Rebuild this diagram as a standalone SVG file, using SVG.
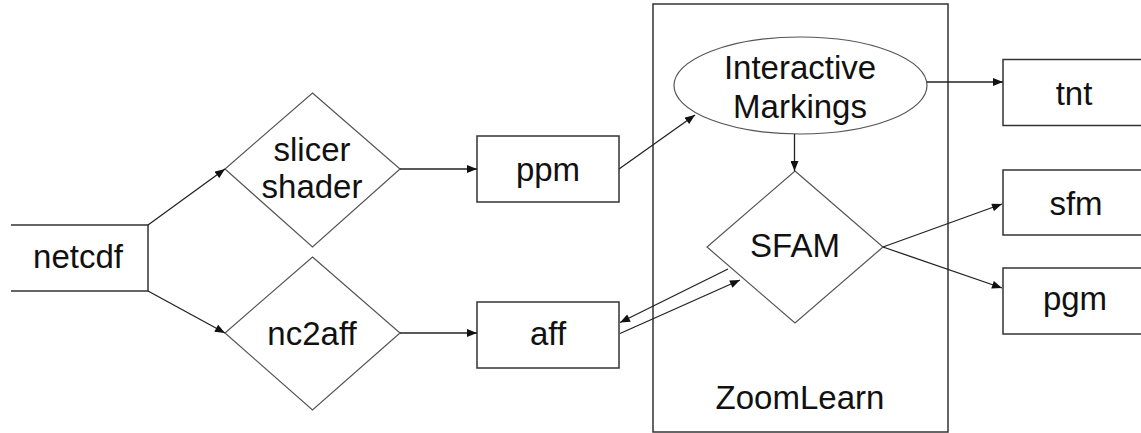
<svg xmlns="http://www.w3.org/2000/svg" width="1141" height="433" viewBox="0 0 1141 433">
<defs>
<marker id="ah" viewBox="0 0 10 8" refX="10" refY="4" markerWidth="11" markerHeight="8" markerUnits="userSpaceOnUse" orient="auto">
<path d="M0,0 L10,4 L0,8 Z" fill="#111"/>
</marker>
<style>
.box{fill:#fff;stroke:#333;stroke-width:1.5}
.dia{fill:#fff;stroke:#555;stroke-width:1.2}
.t{font-family:"Liberation Sans",Arial,sans-serif;font-size:33px;fill:#111;text-anchor:middle}
.c{fill:none;stroke:#222;stroke-width:1.3;marker-end:url(#ah)}
</style>
</defs>
<rect width="1141" height="433" fill="#fff"/>
<g id="zoomlearn">
<rect x="653" y="4" width="295" height="428" fill="none" stroke="#333" stroke-width="1.5"/>
<text class="t" x="800" y="409">ZoomLearn</text>
</g>
<g id="netcdf">
<path class="box" d="M11,225 H148 V291 H11"/>
<text class="t" x="78" y="268">netcdf</text>
</g>
<g id="slicer">
<polygon class="dia" points="312.5,93 400,169 312.5,247 225,169"/>
<text class="t" x="312" y="161">slicer</text>
<text class="t" x="312" y="198">shader</text>
</g>
<g id="nc2aff">
<polygon class="dia" points="312.5,257 400,333 312.5,410 225,333"/>
<text class="t" x="312" y="345">nc2aff</text>
</g>
<g id="ppm">
<rect class="box" x="477" y="136" width="142" height="66"/>
<text class="t" x="548" y="181">ppm</text>
</g>
<g id="aff">
<rect class="box" x="477" y="302" width="142" height="66"/>
<text class="t" x="548" y="345">aff</text>
</g>
<g id="interactive">
<ellipse cx="800.5" cy="85.5" rx="126.5" ry="48.5" fill="#fff" stroke="#555" stroke-width="1.2"/>
<text class="t" x="800" y="79">Interactive</text>
<text class="t" x="800" y="118">Markings</text>
</g>
<g id="sfam">
<polygon class="dia" points="795,171 883,247 795,323 707,247"/>
<text class="t" x="795" y="257">SFAM</text>
</g>
<g id="tnt">
<path class="box" d="M1145,59.5 H1003 V125.5 H1145"/>
<text class="t" x="1074" y="105">tnt</text>
</g>
<g id="sfm">
<path class="box" d="M1145,170 H1003 V235 H1145"/>
<text class="t" x="1076" y="215">sfm</text>
</g>
<g id="pgm">
<path class="box" d="M1145,268 H1003 V334 H1145"/>
<text class="t" x="1075" y="310">pgm</text>
</g>
<g id="connectors">
<line class="c" x1="148" y1="225" x2="225" y2="169"/>
<line class="c" x1="148" y1="291" x2="225" y2="333"/>
<line class="c" x1="400" y1="169" x2="477" y2="169"/>
<line class="c" x1="400" y1="333" x2="477" y2="333"/>
<line class="c" x1="619" y1="169" x2="695" y2="115"/>
<line class="c" x1="927" y1="82" x2="1003" y2="82"/>
<line class="c" x1="794.5" y1="134" x2="794.5" y2="171"/>
<line class="c" x1="883" y1="247" x2="1002" y2="204"/>
<line class="c" x1="883" y1="247" x2="1002" y2="288"/>
<line class="c" x1="728" y1="269" x2="620" y2="322.5"/>
<line class="c" x1="620" y1="333.5" x2="740" y2="280"/>
</g>
</svg>
